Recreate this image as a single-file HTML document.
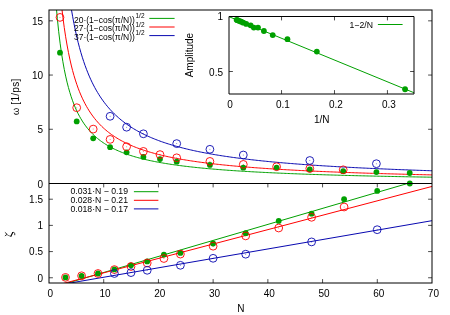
<!DOCTYPE html><html><head><meta charset="utf-8"><style>html,body{margin:0;padding:0;background:#fff}svg{display:block}text{font-family:"Liberation Sans",sans-serif;fill:#000}</style></head><body><div style="will-change:transform;width:450px;height:315px">
<svg width="450" height="315" viewBox="0 0 450 315">
<rect width="450" height="315" fill="#fff"/>
<defs>
<clipPath id="c1"><rect x="49.0" y="10.0" width="383.0" height="173.5"/></clipPath>
<clipPath id="c2"><rect x="49.0" y="183.5" width="383.0" height="99.5"/></clipPath>
<clipPath id="c3"><rect x="229.0" y="16.5" width="185.0" height="77.5"/></clipPath>
</defs>
<polyline clip-path="url(#c1)" fill="none" stroke="#00a000" stroke-width="1" points="49.00,-97.14 50.39,-83.40 51.78,-59.54 53.16,-35.91 54.55,-14.94 55.94,3.11 57.33,18.55 58.71,31.78 60.10,43.18 61.49,53.08 62.88,61.74 64.26,69.35 65.65,76.10 67.04,82.12 68.43,87.52 69.82,92.38 71.20,96.78 72.59,100.78 73.98,104.44 75.37,107.78 76.75,110.87 78.14,113.71 79.53,116.34 80.92,118.78 82.30,121.05 83.69,123.17 85.08,125.15 86.47,127.01 87.86,128.75 89.24,130.39 90.63,131.93 92.02,133.39 93.41,134.77 94.79,136.07 96.18,137.31 97.57,138.48 98.96,139.60 100.34,140.66 101.73,141.67 103.12,142.64 104.51,143.56 105.89,144.44 107.28,145.29 108.67,146.09 110.06,146.87 111.45,147.61 112.83,148.33 114.22,149.01 115.61,149.67 117.00,150.31 118.38,150.92 119.77,151.51 121.16,152.08 122.55,152.63 123.93,153.16 125.32,153.67 126.71,154.17 128.10,154.64 129.49,155.11 130.87,155.56 132.26,155.99 133.65,156.41 135.04,156.82 136.42,157.22 137.81,157.61 139.20,157.98 140.59,158.34 141.97,158.70 143.36,159.04 144.75,159.38 146.14,159.70 147.53,160.02 148.91,160.33 150.30,160.63 151.69,160.92 153.08,161.20 154.46,161.48 155.85,161.75 157.24,162.02 158.63,162.28 160.01,162.53 161.40,162.77 162.79,163.01 164.18,163.25 165.57,163.48 166.95,163.70 168.34,163.92 169.73,164.14 171.12,164.35 172.50,164.55 173.89,164.76 175.28,164.95 176.67,165.15 178.05,165.33 179.44,165.52 180.83,165.70 182.22,165.88 183.61,166.05 184.99,166.22 186.38,166.39 187.77,166.56 189.16,166.72 190.54,166.87 191.93,167.03 193.32,167.18 194.71,167.33 196.09,167.48 197.48,167.62 198.87,167.76 200.26,167.90 201.64,168.04 203.03,168.17 204.42,168.31 205.81,168.44 207.20,168.56 208.58,168.69 209.97,168.81 211.36,168.93 212.75,169.05 214.13,169.17 215.52,169.29 216.91,169.40 218.30,169.51 219.68,169.62 221.07,169.73 222.46,169.84 223.85,169.94 225.24,170.04 226.62,170.15 228.01,170.25 229.40,170.35 230.79,170.44 232.17,170.54 233.56,170.63 234.95,170.73 236.34,170.82 237.72,170.91 239.11,171.00 240.50,171.09 241.89,171.17 243.28,171.26 244.66,171.34 246.05,171.43 247.44,171.51 248.83,171.59 250.21,171.67 251.60,171.75 252.99,171.83 254.38,171.90 255.76,171.98 257.15,172.05 258.54,172.13 259.93,172.20 261.32,172.27 262.70,172.34 264.09,172.41 265.48,172.48 266.87,172.55 268.25,172.62 269.64,172.68 271.03,172.75 272.42,172.82 273.80,172.88 275.19,172.94 276.58,173.01 277.97,173.07 279.36,173.13 280.74,173.19 282.13,173.25 283.52,173.31 284.91,173.37 286.29,173.43 287.68,173.48 289.07,173.54 290.46,173.60 291.84,173.65 293.23,173.71 294.62,173.76 296.01,173.81 297.39,173.87 298.78,173.92 300.17,173.97 301.56,174.02 302.95,174.07 304.33,174.12 305.72,174.17 307.11,174.22 308.50,174.27 309.88,174.32 311.27,174.37 312.66,174.41 314.05,174.46 315.43,174.51 316.82,174.55 318.21,174.60 319.60,174.64 320.99,174.68 322.37,174.73 323.76,174.77 325.15,174.82 326.54,174.86 327.92,174.90 329.31,174.94 330.70,174.98 332.09,175.02 333.47,175.06 334.86,175.10 336.25,175.14 337.64,175.18 339.03,175.22 340.41,175.26 341.80,175.30 343.19,175.34 344.58,175.38 345.96,175.41 347.35,175.45 348.74,175.49 350.13,175.52 351.51,175.56 352.90,175.59 354.29,175.63 355.68,175.66 357.07,175.70 358.45,175.73 359.84,175.77 361.23,175.80 362.62,175.83 364.00,175.87 365.39,175.90 366.78,175.93 368.17,175.97 369.55,176.00 370.94,176.03 372.33,176.06 373.72,176.09 375.11,176.12 376.49,176.15 377.88,176.18 379.27,176.21 380.66,176.24 382.04,176.27 383.43,176.30 384.82,176.33 386.21,176.36 387.59,176.39 388.98,176.42 390.37,176.45 391.76,176.48 393.14,176.50 394.53,176.53 395.92,176.56 397.31,176.59 398.70,176.61 400.08,176.64 401.47,176.67 402.86,176.69 404.25,176.72 405.63,176.74 407.02,176.77 408.41,176.80 409.80,176.82 411.18,176.85 412.57,176.87 413.96,176.90 415.35,176.92 416.74,176.95 418.12,176.97 419.51,176.99 420.90,177.02 422.29,177.04 423.67,177.07 425.06,177.09 426.45,177.11 427.84,177.13 429.22,177.16 430.61,177.18 432.00,177.20"/>
<polyline clip-path="url(#c1)" fill="none" stroke="#ff0000" stroke-width="1" points="49.00,-199.88 50.39,-181.12 51.78,-148.52 53.16,-116.24 54.55,-87.59 55.94,-62.93 57.33,-41.85 58.71,-23.77 60.10,-8.19 61.49,5.33 62.88,17.16 64.26,27.56 65.65,36.79 67.04,45.01 68.43,52.37 69.82,59.02 71.20,65.03 72.59,70.50 73.98,75.49 75.37,80.06 76.75,84.27 78.14,88.16 79.53,91.75 80.92,95.09 82.30,98.19 83.69,101.08 85.08,103.79 86.47,106.33 87.86,108.71 89.24,110.94 90.63,113.05 92.02,115.04 93.41,116.93 94.79,118.71 96.18,120.40 97.57,122.00 98.96,123.53 100.34,124.98 101.73,126.36 103.12,127.68 104.51,128.94 105.89,130.14 107.28,131.30 108.67,132.40 110.06,133.46 111.45,134.47 112.83,135.45 114.22,136.39 115.61,137.29 117.00,138.16 118.38,138.99 119.77,139.80 121.16,140.57 122.55,141.32 123.93,142.05 125.32,142.75 126.71,143.43 128.10,144.08 129.49,144.71 130.87,145.33 132.26,145.92 133.65,146.50 135.04,147.06 136.42,147.60 137.81,148.13 139.20,148.64 140.59,149.13 141.97,149.62 143.36,150.09 144.75,150.54 146.14,150.99 147.53,151.42 148.91,151.84 150.30,152.25 151.69,152.65 153.08,153.04 154.46,153.42 155.85,153.79 157.24,154.15 158.63,154.51 160.01,154.85 161.40,155.19 162.79,155.51 164.18,155.84 165.57,156.15 166.95,156.46 168.34,156.76 169.73,157.05 171.12,157.34 172.50,157.62 173.89,157.89 175.28,158.16 176.67,158.43 178.05,158.68 179.44,158.94 180.83,159.18 182.22,159.43 183.61,159.67 184.99,159.90 186.38,160.13 187.77,160.35 189.16,160.57 190.54,160.79 191.93,161.00 193.32,161.21 194.71,161.41 196.09,161.61 197.48,161.81 198.87,162.00 200.26,162.19 201.64,162.38 203.03,162.56 204.42,162.74 205.81,162.92 207.20,163.10 208.58,163.27 209.97,163.44 211.36,163.60 212.75,163.76 214.13,163.92 215.52,164.08 216.91,164.24 218.30,164.39 219.68,164.54 221.07,164.69 222.46,164.83 223.85,164.98 225.24,165.12 226.62,165.26 228.01,165.39 229.40,165.53 230.79,165.66 232.17,165.79 233.56,165.92 234.95,166.05 236.34,166.18 237.72,166.30 239.11,166.42 240.50,166.54 241.89,166.66 243.28,166.78 244.66,166.89 246.05,167.01 247.44,167.12 248.83,167.23 250.21,167.34 251.60,167.45 252.99,167.55 254.38,167.66 255.76,167.76 257.15,167.86 258.54,167.96 259.93,168.06 261.32,168.16 262.70,168.26 264.09,168.35 265.48,168.45 266.87,168.54 268.25,168.63 269.64,168.73 271.03,168.82 272.42,168.90 273.80,168.99 275.19,169.08 276.58,169.16 277.97,169.25 279.36,169.33 280.74,169.42 282.13,169.50 283.52,169.58 284.91,169.66 286.29,169.74 287.68,169.82 289.07,169.89 290.46,169.97 291.84,170.05 293.23,170.12 294.62,170.19 296.01,170.27 297.39,170.34 298.78,170.41 300.17,170.48 301.56,170.55 302.95,170.62 304.33,170.69 305.72,170.76 307.11,170.82 308.50,170.89 309.88,170.96 311.27,171.02 312.66,171.09 314.05,171.15 315.43,171.21 316.82,171.27 318.21,171.34 319.60,171.40 320.99,171.46 322.37,171.52 323.76,171.58 325.15,171.64 326.54,171.69 327.92,171.75 329.31,171.81 330.70,171.86 332.09,171.92 333.47,171.98 334.86,172.03 336.25,172.09 337.64,172.14 339.03,172.19 340.41,172.25 341.80,172.30 343.19,172.35 344.58,172.40 345.96,172.45 347.35,172.50 348.74,172.55 350.13,172.60 351.51,172.65 352.90,172.70 354.29,172.75 355.68,172.80 357.07,172.84 358.45,172.89 359.84,172.94 361.23,172.98 362.62,173.03 364.00,173.07 365.39,173.12 366.78,173.16 368.17,173.21 369.55,173.25 370.94,173.29 372.33,173.34 373.72,173.38 375.11,173.42 376.49,173.46 377.88,173.51 379.27,173.55 380.66,173.59 382.04,173.63 383.43,173.67 384.82,173.71 386.21,173.75 387.59,173.79 388.98,173.83 390.37,173.87 391.76,173.90 393.14,173.94 394.53,173.98 395.92,174.02 397.31,174.05 398.70,174.09 400.08,174.13 401.47,174.16 402.86,174.20 404.25,174.24 405.63,174.27 407.02,174.31 408.41,174.34 409.80,174.38 411.18,174.41 412.57,174.44 413.96,174.48 415.35,174.51 416.74,174.55 418.12,174.58 419.51,174.61 420.90,174.64 422.29,174.68 423.67,174.71 425.06,174.74 426.45,174.77 427.84,174.80 429.22,174.84 430.61,174.87 432.00,174.90"/>
<polyline clip-path="url(#c1)" fill="none" stroke="#0808b0" stroke-width="1" points="49.00,-383.91 50.39,-356.14 51.78,-307.89 53.16,-260.12 54.55,-217.72 55.94,-181.22 57.33,-150.01 58.71,-123.26 60.10,-100.20 61.49,-80.19 62.88,-62.69 64.26,-47.29 65.65,-33.64 67.04,-21.47 68.43,-10.57 69.82,-0.74 71.20,8.16 72.59,16.25 73.98,23.64 75.37,30.41 76.75,36.64 78.14,42.39 79.53,47.71 80.92,52.65 82.30,57.24 83.69,61.52 85.08,65.53 86.47,69.28 87.86,72.80 89.24,76.12 90.63,79.24 92.02,82.19 93.41,84.97 94.79,87.61 96.18,90.11 97.57,92.48 98.96,94.74 100.34,96.89 101.73,98.93 103.12,100.88 104.51,102.75 105.89,104.53 107.28,106.24 108.67,107.87 110.06,109.44 111.45,110.94 112.83,112.38 114.22,113.77 115.61,115.11 117.00,116.39 118.38,117.63 119.77,118.82 121.16,119.97 122.55,121.08 123.93,122.15 125.32,123.19 126.71,124.19 128.10,125.16 129.49,126.10 130.87,127.00 132.26,127.88 133.65,128.74 135.04,129.56 136.42,130.37 137.81,131.15 139.20,131.90 140.59,132.64 141.97,133.35 143.36,134.05 144.75,134.72 146.14,135.38 147.53,136.02 148.91,136.64 150.30,137.25 151.69,137.84 153.08,138.42 154.46,138.98 155.85,139.53 157.24,140.07 158.63,140.59 160.01,141.10 161.40,141.60 162.79,142.08 164.18,142.56 165.57,143.02 166.95,143.48 168.34,143.92 169.73,144.35 171.12,144.78 172.50,145.19 173.89,145.60 175.28,146.00 176.67,146.39 178.05,146.77 179.44,147.15 180.83,147.51 182.22,147.87 183.61,148.22 184.99,148.57 186.38,148.91 187.77,149.24 189.16,149.57 190.54,149.89 191.93,150.20 193.32,150.51 194.71,150.81 196.09,151.11 197.48,151.40 198.87,151.69 200.26,151.97 201.64,152.24 203.03,152.51 204.42,152.78 205.81,153.04 207.20,153.30 208.58,153.55 209.97,153.80 211.36,154.05 212.75,154.29 214.13,154.53 215.52,154.76 216.91,154.99 218.30,155.22 219.68,155.44 221.07,155.66 222.46,155.87 223.85,156.09 225.24,156.30 226.62,156.50 228.01,156.70 229.40,156.90 230.79,157.10 232.17,157.30 233.56,157.49 234.95,157.67 236.34,157.86 237.72,158.04 239.11,158.22 240.50,158.40 241.89,158.58 243.28,158.75 244.66,158.92 246.05,159.09 247.44,159.25 248.83,159.42 250.21,159.58 251.60,159.74 252.99,159.90 254.38,160.05 255.76,160.21 257.15,160.36 258.54,160.51 259.93,160.65 261.32,160.80 262.70,160.94 264.09,161.08 265.48,161.22 266.87,161.36 268.25,161.50 269.64,161.63 271.03,161.77 272.42,161.90 273.80,162.03 275.19,162.16 276.58,162.28 277.97,162.41 279.36,162.53 280.74,162.66 282.13,162.78 283.52,162.90 284.91,163.02 286.29,163.13 287.68,163.25 289.07,163.36 290.46,163.48 291.84,163.59 293.23,163.70 294.62,163.81 296.01,163.92 297.39,164.02 298.78,164.13 300.17,164.23 301.56,164.34 302.95,164.44 304.33,164.54 305.72,164.64 307.11,164.74 308.50,164.84 309.88,164.93 311.27,165.03 312.66,165.13 314.05,165.22 315.43,165.31 316.82,165.41 318.21,165.50 319.60,165.59 320.99,165.68 322.37,165.77 323.76,165.85 325.15,165.94 326.54,166.03 327.92,166.11 329.31,166.20 330.70,166.28 332.09,166.36 333.47,166.44 334.86,166.53 336.25,166.61 337.64,166.69 339.03,166.76 340.41,166.84 341.80,166.92 343.19,167.00 344.58,167.07 345.96,167.15 347.35,167.22 348.74,167.30 350.13,167.37 351.51,167.44 352.90,167.51 354.29,167.59 355.68,167.66 357.07,167.73 358.45,167.80 359.84,167.87 361.23,167.93 362.62,168.00 364.00,168.07 365.39,168.13 366.78,168.20 368.17,168.27 369.55,168.33 370.94,168.40 372.33,168.46 373.72,168.52 375.11,168.58 376.49,168.65 377.88,168.71 379.27,168.77 380.66,168.83 382.04,168.89 383.43,168.95 384.82,169.01 386.21,169.07 387.59,169.13 388.98,169.18 390.37,169.24 391.76,169.30 393.14,169.35 394.53,169.41 395.92,169.47 397.31,169.52 398.70,169.58 400.08,169.63 401.47,169.68 402.86,169.74 404.25,169.79 405.63,169.84 407.02,169.89 408.41,169.95 409.80,170.00 411.18,170.05 412.57,170.10 413.96,170.15 415.35,170.20 416.74,170.25 418.12,170.30 419.51,170.35 420.90,170.39 422.29,170.44 423.67,170.49 425.06,170.54 426.45,170.58 427.84,170.63 429.22,170.68 430.61,170.72 432.00,170.77"/>
<circle cx="60" cy="52.70" r="2.9" fill="#00a000"/>
<circle cx="76.7" cy="121.40" r="2.9" fill="#00a000"/>
<circle cx="93.2" cy="138.30" r="2.9" fill="#00a000"/>
<circle cx="110.1" cy="147.20" r="2.9" fill="#00a000"/>
<circle cx="126.6" cy="152.30" r="2.9" fill="#00a000"/>
<circle cx="143.4" cy="156.90" r="2.9" fill="#00a000"/>
<circle cx="160" cy="159.10" r="2.9" fill="#00a000"/>
<circle cx="176.7" cy="161.70" r="2.9" fill="#00a000"/>
<circle cx="209.9" cy="164.90" r="2.9" fill="#00a000"/>
<circle cx="243.3" cy="167.70" r="2.9" fill="#00a000"/>
<circle cx="276.6" cy="167.60" r="2.9" fill="#00a000"/>
<circle cx="309.8" cy="169.40" r="2.9" fill="#00a000"/>
<circle cx="343.2" cy="171.20" r="2.9" fill="#00a000"/>
<circle cx="376.4" cy="172.10" r="2.9" fill="#00a000"/>
<circle cx="409.7" cy="173.00" r="2.9" fill="#00a000"/>
<circle cx="60" cy="17.40" r="3.9" fill="none" stroke="#ff0000" stroke-width="0.9"/>
<circle cx="60" cy="17.40" r="0.5" fill="#ff0000" fill-opacity="0.6"/>
<circle cx="76.7" cy="107.70" r="3.9" fill="none" stroke="#ff0000" stroke-width="0.9"/>
<circle cx="76.7" cy="107.70" r="0.5" fill="#ff0000" fill-opacity="0.6"/>
<circle cx="93.2" cy="129.10" r="3.9" fill="none" stroke="#ff0000" stroke-width="0.9"/>
<circle cx="93.2" cy="129.10" r="0.5" fill="#ff0000" fill-opacity="0.6"/>
<circle cx="110.1" cy="139.40" r="3.9" fill="none" stroke="#ff0000" stroke-width="0.9"/>
<circle cx="110.1" cy="139.40" r="0.5" fill="#ff0000" fill-opacity="0.6"/>
<circle cx="126.6" cy="146.70" r="3.9" fill="none" stroke="#ff0000" stroke-width="0.9"/>
<circle cx="126.6" cy="146.70" r="0.5" fill="#ff0000" fill-opacity="0.6"/>
<circle cx="143.4" cy="151.40" r="3.9" fill="none" stroke="#ff0000" stroke-width="0.9"/>
<circle cx="143.4" cy="151.40" r="0.5" fill="#ff0000" fill-opacity="0.6"/>
<circle cx="160" cy="154.60" r="3.9" fill="none" stroke="#ff0000" stroke-width="0.9"/>
<circle cx="160" cy="154.60" r="0.5" fill="#ff0000" fill-opacity="0.6"/>
<circle cx="176.7" cy="157.80" r="3.9" fill="none" stroke="#ff0000" stroke-width="0.9"/>
<circle cx="176.7" cy="157.80" r="0.5" fill="#ff0000" fill-opacity="0.6"/>
<circle cx="209.9" cy="161.40" r="3.9" fill="none" stroke="#ff0000" stroke-width="0.9"/>
<circle cx="209.9" cy="161.40" r="0.5" fill="#ff0000" fill-opacity="0.6"/>
<circle cx="243.3" cy="164.40" r="3.9" fill="none" stroke="#ff0000" stroke-width="0.9"/>
<circle cx="243.3" cy="164.40" r="0.5" fill="#ff0000" fill-opacity="0.6"/>
<circle cx="276.6" cy="166.70" r="3.9" fill="none" stroke="#ff0000" stroke-width="0.9"/>
<circle cx="276.6" cy="166.70" r="0.5" fill="#ff0000" fill-opacity="0.6"/>
<circle cx="309.8" cy="168.50" r="3.9" fill="none" stroke="#ff0000" stroke-width="0.9"/>
<circle cx="309.8" cy="168.50" r="0.5" fill="#ff0000" fill-opacity="0.6"/>
<circle cx="343.2" cy="169.80" r="3.9" fill="none" stroke="#ff0000" stroke-width="0.9"/>
<circle cx="343.2" cy="169.80" r="0.5" fill="#ff0000" fill-opacity="0.6"/>
<circle cx="110.1" cy="116.30" r="3.9" fill="none" stroke="#0808b0" stroke-width="0.9"/>
<circle cx="110.1" cy="116.30" r="0.5" fill="#0808b0" fill-opacity="0.6"/>
<circle cx="126.6" cy="127.20" r="3.9" fill="none" stroke="#0808b0" stroke-width="0.9"/>
<circle cx="126.6" cy="127.20" r="0.5" fill="#0808b0" fill-opacity="0.6"/>
<circle cx="143.4" cy="133.80" r="3.9" fill="none" stroke="#0808b0" stroke-width="0.9"/>
<circle cx="143.4" cy="133.80" r="0.5" fill="#0808b0" fill-opacity="0.6"/>
<circle cx="176.7" cy="143.60" r="3.9" fill="none" stroke="#0808b0" stroke-width="0.9"/>
<circle cx="176.7" cy="143.60" r="0.5" fill="#0808b0" fill-opacity="0.6"/>
<circle cx="209.9" cy="149.30" r="3.9" fill="none" stroke="#0808b0" stroke-width="0.9"/>
<circle cx="209.9" cy="149.30" r="0.5" fill="#0808b0" fill-opacity="0.6"/>
<circle cx="243.3" cy="155.00" r="3.9" fill="none" stroke="#0808b0" stroke-width="0.9"/>
<circle cx="243.3" cy="155.00" r="0.5" fill="#0808b0" fill-opacity="0.6"/>
<circle cx="309.8" cy="160.50" r="3.9" fill="none" stroke="#0808b0" stroke-width="0.9"/>
<circle cx="309.8" cy="160.50" r="0.5" fill="#0808b0" fill-opacity="0.6"/>
<circle cx="376.4" cy="163.70" r="3.9" fill="none" stroke="#0808b0" stroke-width="0.9"/>
<circle cx="376.4" cy="163.70" r="0.5" fill="#0808b0" fill-opacity="0.6"/>
<line clip-path="url(#c2)" x1="49.00" y1="288.50" x2="432.00" y2="176.33" stroke="#00a000" stroke-width="1"/>
<line clip-path="url(#c2)" x1="49.00" y1="287.24" x2="432.00" y2="186.43" stroke="#ff0000" stroke-width="1"/>
<line clip-path="url(#c2)" x1="49.00" y1="286.67" x2="432.00" y2="220.68" stroke="#0808b0" stroke-width="1"/>
<circle cx="65.5" cy="277.40" r="2.9" fill="#00a000"/>
<circle cx="81.6" cy="275.80" r="2.9" fill="#00a000"/>
<circle cx="98" cy="273.50" r="2.9" fill="#00a000"/>
<circle cx="114.4" cy="269.40" r="2.9" fill="#00a000"/>
<circle cx="131" cy="265.30" r="2.9" fill="#00a000"/>
<circle cx="147.2" cy="261.40" r="2.9" fill="#00a000"/>
<circle cx="163.9" cy="254.60" r="2.9" fill="#00a000"/>
<circle cx="180.4" cy="252.90" r="2.9" fill="#00a000"/>
<circle cx="213.1" cy="243.50" r="2.9" fill="#00a000"/>
<circle cx="245.7" cy="233.20" r="2.9" fill="#00a000"/>
<circle cx="278.7" cy="220.90" r="2.9" fill="#00a000"/>
<circle cx="311.6" cy="213.70" r="2.9" fill="#00a000"/>
<circle cx="344.1" cy="199.20" r="2.9" fill="#00a000"/>
<circle cx="377.2" cy="190.90" r="2.9" fill="#00a000"/>
<circle cx="409.8" cy="183.50" r="2.9" fill="#00a000"/>
<circle cx="65.5" cy="277.40" r="3.9" fill="none" stroke="#ff0000" stroke-width="0.9"/>
<circle cx="65.5" cy="277.40" r="0.5" fill="#ff0000" fill-opacity="0.6"/>
<circle cx="81.6" cy="275.80" r="3.9" fill="none" stroke="#ff0000" stroke-width="0.9"/>
<circle cx="81.6" cy="275.80" r="0.5" fill="#ff0000" fill-opacity="0.6"/>
<circle cx="98" cy="273.50" r="3.9" fill="none" stroke="#ff0000" stroke-width="0.9"/>
<circle cx="98" cy="273.50" r="0.5" fill="#ff0000" fill-opacity="0.6"/>
<circle cx="114.4" cy="269.60" r="3.9" fill="none" stroke="#ff0000" stroke-width="0.9"/>
<circle cx="114.4" cy="269.60" r="0.5" fill="#ff0000" fill-opacity="0.6"/>
<circle cx="131" cy="266.50" r="3.9" fill="none" stroke="#ff0000" stroke-width="0.9"/>
<circle cx="131" cy="266.50" r="0.5" fill="#ff0000" fill-opacity="0.6"/>
<circle cx="147.2" cy="263.00" r="3.9" fill="none" stroke="#ff0000" stroke-width="0.9"/>
<circle cx="147.2" cy="263.00" r="0.5" fill="#ff0000" fill-opacity="0.6"/>
<circle cx="163.9" cy="258.50" r="3.9" fill="none" stroke="#ff0000" stroke-width="0.9"/>
<circle cx="163.9" cy="258.50" r="0.5" fill="#ff0000" fill-opacity="0.6"/>
<circle cx="180.4" cy="254.10" r="3.9" fill="none" stroke="#ff0000" stroke-width="0.9"/>
<circle cx="180.4" cy="254.10" r="0.5" fill="#ff0000" fill-opacity="0.6"/>
<circle cx="213.1" cy="246.20" r="3.9" fill="none" stroke="#ff0000" stroke-width="0.9"/>
<circle cx="213.1" cy="246.20" r="0.5" fill="#ff0000" fill-opacity="0.6"/>
<circle cx="245.7" cy="235.90" r="3.9" fill="none" stroke="#ff0000" stroke-width="0.9"/>
<circle cx="245.7" cy="235.90" r="0.5" fill="#ff0000" fill-opacity="0.6"/>
<circle cx="278.7" cy="228.00" r="3.9" fill="none" stroke="#ff0000" stroke-width="0.9"/>
<circle cx="278.7" cy="228.00" r="0.5" fill="#ff0000" fill-opacity="0.6"/>
<circle cx="311.6" cy="217.30" r="3.9" fill="none" stroke="#ff0000" stroke-width="0.9"/>
<circle cx="311.6" cy="217.30" r="0.5" fill="#ff0000" fill-opacity="0.6"/>
<circle cx="344.1" cy="207.00" r="3.9" fill="none" stroke="#ff0000" stroke-width="0.9"/>
<circle cx="344.1" cy="207.00" r="0.5" fill="#ff0000" fill-opacity="0.6"/>
<circle cx="114.4" cy="273.50" r="3.9" fill="none" stroke="#0808b0" stroke-width="0.9"/>
<circle cx="114.4" cy="273.50" r="0.5" fill="#0808b0" fill-opacity="0.6"/>
<circle cx="131" cy="272.60" r="3.9" fill="none" stroke="#0808b0" stroke-width="0.9"/>
<circle cx="131" cy="272.60" r="0.5" fill="#0808b0" fill-opacity="0.6"/>
<circle cx="147.2" cy="270.30" r="3.9" fill="none" stroke="#0808b0" stroke-width="0.9"/>
<circle cx="147.2" cy="270.30" r="0.5" fill="#0808b0" fill-opacity="0.6"/>
<circle cx="180.4" cy="265.30" r="3.9" fill="none" stroke="#0808b0" stroke-width="0.9"/>
<circle cx="180.4" cy="265.30" r="0.5" fill="#0808b0" fill-opacity="0.6"/>
<circle cx="213.1" cy="258.30" r="3.9" fill="none" stroke="#0808b0" stroke-width="0.9"/>
<circle cx="213.1" cy="258.30" r="0.5" fill="#0808b0" fill-opacity="0.6"/>
<circle cx="245.7" cy="254.20" r="3.9" fill="none" stroke="#0808b0" stroke-width="0.9"/>
<circle cx="245.7" cy="254.20" r="0.5" fill="#0808b0" fill-opacity="0.6"/>
<circle cx="311.6" cy="241.90" r="3.9" fill="none" stroke="#0808b0" stroke-width="0.9"/>
<circle cx="311.6" cy="241.90" r="0.5" fill="#0808b0" fill-opacity="0.6"/>
<circle cx="377.2" cy="229.70" r="3.9" fill="none" stroke="#0808b0" stroke-width="0.9"/>
<circle cx="377.2" cy="229.70" r="0.5" fill="#0808b0" fill-opacity="0.6"/>
<rect x="49.0" y="10.0" width="383.0" height="273.0" fill="none" stroke="#000" stroke-width="1"/>
<line x1="49.0" y1="183.5" x2="432.0" y2="183.5" stroke="#000" stroke-width="1"/>
<line x1="49.0" y1="183.50" x2="52.9" y2="183.50" stroke="#000" stroke-width="0.7"/>
<line x1="432.0" y1="183.50" x2="428.1" y2="183.50" stroke="#000" stroke-width="0.7"/>
<text x="43" y="188" font-size="10" text-anchor="end">0</text>
<line x1="49.0" y1="129.28" x2="52.9" y2="129.28" stroke="#000" stroke-width="0.7"/>
<line x1="432.0" y1="129.28" x2="428.1" y2="129.28" stroke="#000" stroke-width="0.7"/>
<text x="43" y="133" font-size="10" text-anchor="end">5</text>
<line x1="49.0" y1="75.06" x2="52.9" y2="75.06" stroke="#000" stroke-width="0.7"/>
<line x1="432.0" y1="75.06" x2="428.1" y2="75.06" stroke="#000" stroke-width="0.7"/>
<text x="43" y="79" font-size="10" text-anchor="end">10</text>
<line x1="49.0" y1="20.84" x2="52.9" y2="20.84" stroke="#000" stroke-width="0.7"/>
<line x1="432.0" y1="20.84" x2="428.1" y2="20.84" stroke="#000" stroke-width="0.7"/>
<text x="43" y="25" font-size="10" text-anchor="end">15</text>
<line x1="49.0" y1="277.76" x2="52.9" y2="277.76" stroke="#000" stroke-width="0.7"/>
<line x1="432.0" y1="277.76" x2="428.1" y2="277.76" stroke="#000" stroke-width="0.7"/>
<text x="43" y="282" font-size="10" text-anchor="end">0</text>
<line x1="49.0" y1="251.58" x2="52.9" y2="251.58" stroke="#000" stroke-width="0.7"/>
<line x1="432.0" y1="251.58" x2="428.1" y2="251.58" stroke="#000" stroke-width="0.7"/>
<text x="43" y="255" font-size="10" text-anchor="end">0.5</text>
<line x1="49.0" y1="225.39" x2="52.9" y2="225.39" stroke="#000" stroke-width="0.7"/>
<line x1="432.0" y1="225.39" x2="428.1" y2="225.39" stroke="#000" stroke-width="0.7"/>
<text x="43" y="229" font-size="10" text-anchor="end">1</text>
<line x1="49.0" y1="199.21" x2="52.9" y2="199.21" stroke="#000" stroke-width="0.7"/>
<line x1="432.0" y1="199.21" x2="428.1" y2="199.21" stroke="#000" stroke-width="0.7"/>
<text x="43" y="203" font-size="10" text-anchor="end">1.5</text>
<text x="50.40" y="297" font-size="10" text-anchor="middle">0</text>
<line x1="103.71" y1="283.0" x2="103.71" y2="279.1" stroke="#000" stroke-width="0.7"/>
<line x1="103.71" y1="183.5" x2="103.71" y2="187.4" stroke="#000" stroke-width="0.7"/>
<text x="105.11" y="297" font-size="10" text-anchor="middle">10</text>
<line x1="158.43" y1="283.0" x2="158.43" y2="279.1" stroke="#000" stroke-width="0.7"/>
<line x1="158.43" y1="183.5" x2="158.43" y2="187.4" stroke="#000" stroke-width="0.7"/>
<text x="159.83" y="297" font-size="10" text-anchor="middle">20</text>
<line x1="213.14" y1="283.0" x2="213.14" y2="279.1" stroke="#000" stroke-width="0.7"/>
<line x1="213.14" y1="183.5" x2="213.14" y2="187.4" stroke="#000" stroke-width="0.7"/>
<text x="214.54" y="297" font-size="10" text-anchor="middle">30</text>
<line x1="267.86" y1="283.0" x2="267.86" y2="279.1" stroke="#000" stroke-width="0.7"/>
<line x1="267.86" y1="183.5" x2="267.86" y2="187.4" stroke="#000" stroke-width="0.7"/>
<text x="269.26" y="297" font-size="10" text-anchor="middle">40</text>
<line x1="322.57" y1="283.0" x2="322.57" y2="279.1" stroke="#000" stroke-width="0.7"/>
<line x1="322.57" y1="183.5" x2="322.57" y2="187.4" stroke="#000" stroke-width="0.7"/>
<text x="323.97" y="297" font-size="10" text-anchor="middle">50</text>
<line x1="377.29" y1="283.0" x2="377.29" y2="279.1" stroke="#000" stroke-width="0.7"/>
<line x1="377.29" y1="183.5" x2="377.29" y2="187.4" stroke="#000" stroke-width="0.7"/>
<text x="378.69" y="297" font-size="10" text-anchor="middle">60</text>
<text x="433.40" y="297" font-size="10" text-anchor="middle">70</text>
<text x="240.8" y="311.7" font-size="10" text-anchor="middle">N</text>
<text transform="translate(19,96.7) rotate(-90)" font-size="10" text-anchor="middle"><tspan font-size="9.2">ω</tspan><tspan letter-spacing="0.3"> [1/ps]</tspan></text>
<g fill="none" stroke="#000" stroke-linecap="round" stroke-linejoin="round"><path d="M5.2,232.6 L7.1,234.3 L5.2,235.7" stroke-width="0.8"/><path d="M7.1,234.7 Q9,236.2 10.9,236.3" stroke-width="0.55"/><path d="M10.9,236.2 L12.7,232.5" stroke-width="1.1"/><path d="M12.7,232.5 Q15.1,231.6 14.8,234.8" stroke-width="0.8"/></g>
<text x="74" y="22.50" font-size="8.5">20·(1−cos(π/N))<tspan dx="0.6" dy="-4.5" font-size="6.5">1/2</tspan></text>
<line x1="149.3" y1="18.40" x2="174.6" y2="18.40" stroke="#00a000"/>
<text x="74" y="31.10" font-size="8.5">27·(1−cos(π/N))<tspan dx="0.6" dy="-4.5" font-size="6.5">1/2</tspan></text>
<line x1="149.3" y1="27.00" x2="174.6" y2="27.00" stroke="#ff0000"/>
<text x="74" y="39.70" font-size="8.5">37·(1−cos(π/N))<tspan dx="0.6" dy="-4.5" font-size="6.5">1/2</tspan></text>
<line x1="149.3" y1="35.60" x2="174.6" y2="35.60" stroke="#0808b0"/>
<text x="128" y="194.30" font-size="8.67" text-anchor="end">0.031·N − 0.19</text>
<line x1="133.9" y1="191.70" x2="158.4" y2="191.70" stroke="#00a000"/>
<text x="128" y="202.90" font-size="8.67" text-anchor="end">0.028·N − 0.21</text>
<line x1="133.9" y1="200.30" x2="158.4" y2="200.30" stroke="#ff0000"/>
<text x="128" y="211.50" font-size="8.67" text-anchor="end">0.018·N − 0.17</text>
<line x1="133.9" y1="208.90" x2="158.4" y2="208.90" stroke="#0808b0"/>
<rect x="229.0" y="11.0" width="195.0" height="100" fill="none"/>
<line clip-path="url(#c3)" x1="228.60" y1="16.50" x2="413.90" y2="92.70" stroke="#00a000"/>
<g clip-path="url(#c3)">
<circle cx="405.08" cy="89.24" r="2.9" fill="#00a000"/>
<circle cx="316.84" cy="51.60" r="2.9" fill="#00a000"/>
<circle cx="287.43" cy="39.20" r="2.9" fill="#00a000"/>
<circle cx="272.72" cy="35.10" r="2.9" fill="#00a000"/>
<circle cx="263.90" cy="31.00" r="2.9" fill="#00a000"/>
<circle cx="258.01" cy="27.57" r="2.9" fill="#00a000"/>
<circle cx="253.81" cy="27.57" r="2.9" fill="#00a000"/>
<circle cx="250.66" cy="25.36" r="2.9" fill="#00a000"/>
<circle cx="246.25" cy="23.88" r="2.9" fill="#00a000"/>
<circle cx="243.31" cy="22.65" r="2.9" fill="#00a000"/>
<circle cx="241.21" cy="21.77" r="2.9" fill="#00a000"/>
<circle cx="239.63" cy="21.11" r="2.9" fill="#00a000"/>
<circle cx="238.40" cy="20.60" r="2.9" fill="#00a000"/>
<circle cx="237.42" cy="20.19" r="2.9" fill="#00a000"/>
<circle cx="236.62" cy="19.85" r="2.9" fill="#00a000"/>
</g>
<path d="M229.0,16.5 V94.0 H414.0 V16.5" fill="none" stroke="#000"/>
<line x1="229.0" y1="16.5" x2="414.0" y2="16.5" stroke="#000"/>
<text x="230.00" y="108" font-size="10" text-anchor="middle">0</text>
<line x1="281.54" y1="94.0" x2="281.54" y2="90.1" stroke="#000" stroke-width="0.7"/>
<line x1="281.54" y1="16.5" x2="281.54" y2="20.4" stroke="#000" stroke-width="0.7"/>
<text x="282.94" y="108" font-size="10" text-anchor="middle">0.1</text>
<line x1="334.49" y1="94.0" x2="334.49" y2="90.1" stroke="#000" stroke-width="0.7"/>
<line x1="334.49" y1="16.5" x2="334.49" y2="20.4" stroke="#000" stroke-width="0.7"/>
<text x="335.89" y="108" font-size="10" text-anchor="middle">0.2</text>
<line x1="387.43" y1="94.0" x2="387.43" y2="90.1" stroke="#000" stroke-width="0.7"/>
<line x1="387.43" y1="16.5" x2="387.43" y2="20.4" stroke="#000" stroke-width="0.7"/>
<text x="388.83" y="108" font-size="10" text-anchor="middle">0.3</text>
<line x1="229.0" y1="71.50" x2="232.9" y2="71.50" stroke="#000" stroke-width="0.7"/>
<line x1="414.0" y1="71.50" x2="410.1" y2="71.50" stroke="#000" stroke-width="0.7"/>
<text x="223" y="75.5" font-size="10" text-anchor="end">0.5</text>
<line x1="229.0" y1="16.50" x2="232.9" y2="16.50" stroke="#000" stroke-width="0.7"/>
<line x1="414.0" y1="16.50" x2="410.1" y2="16.50" stroke="#000" stroke-width="0.7"/>
<text x="223" y="20" font-size="10" text-anchor="end">1</text>
<text x="321.8" y="123" font-size="10" text-anchor="middle">1/N</text>
<text transform="translate(193,55.1) rotate(-90)" font-size="10" text-anchor="middle">Amplitude</text>
<text x="372.9" y="27.9" font-size="8.67" text-anchor="end">1−2/N</text>
<line x1="377.9" y1="24.5" x2="402.6" y2="24.5" stroke="#00a000"/>
</svg></div></body></html>
